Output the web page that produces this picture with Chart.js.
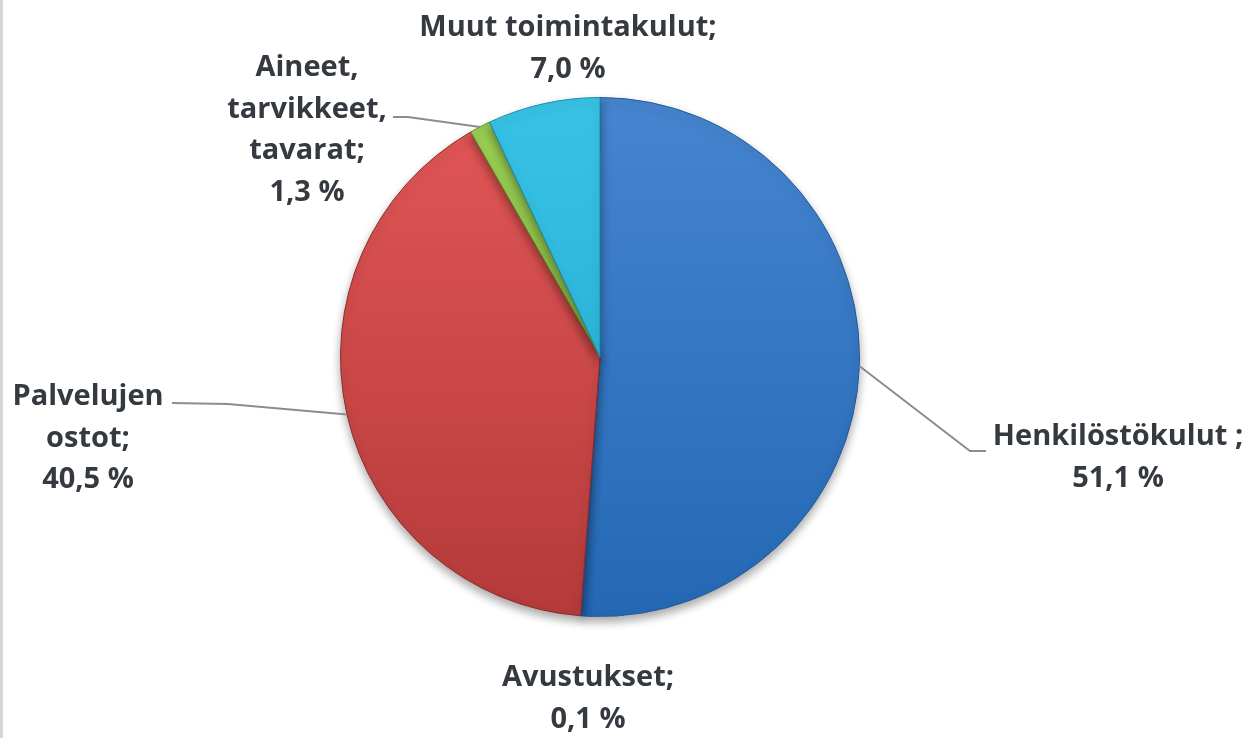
<!DOCTYPE html>
<html>
<head>
<meta charset="utf-8">
<script src="https://cdn.jsdelivr.net/npm/chart.js@4"></script>
<style>
  html, body { margin: 0; padding: 0; background: #fff; }
  #wrap { width: 1258px; height: 738px; position: relative; border-left: 3px solid #d6d6d6; box-sizing: border-box; }
</style>
</head>
<body>
<div id="wrap"><canvas id="myChart" width="1255" height="738"></canvas></div>
<script>
const labels = ["Henkilöstökulut ;", "Avustukset;", "Palvelujen ostot;", "Aineet, tarvikkeet, tavarat;", "Muut toimintakulut;"];
const values = [51.1, 0.1, 40.5, 1.3, 7.0];
const topColors = ["#4685d0", "#3f77c2", "#e35757", "#9ccf55", "#38c3e6"];
const bottomColors = ["#2468b4", "#2a5ea0", "#b53a3a", "#78ad35", "#1fa6cc"];
const borderColors = ["#24589a", "#24589a", "#8e2a2a", "#5e8c26", "#1a8aa8"];

// label text lines and where each label block sits (centre x, first line y, leader end)
const labelLines = [
  ["Henkilöstökulut ;", "51,1 %"],
  ["Avustukset;", "0,1 %"],
  ["Palvelujen", "ostot;", "40,5 %"],
  ["Aineet,", "tarvikkeet,", "tavarat;", "1,3 %"],
  ["Muut toimintakulut;", "7,0 %"],
];
const labelPos = [
  { x: 1115, y: 437, line: [[967, 451], [983, 451]] },
  { x: 585, y: 678, line: null },
  { x: 85, y: 397, line: [[225, 404], [169, 403]] },
  { x: 304, y: 68, line: [[405, 117], [390, 117]] },
  { x: 565, y: 28, line: null },
];

function grad(ctx, i) {
  const chart = ctx.chart;
  const area = chart.chartArea;
  if (!area) return topColors[i];
  const g = chart.ctx.createLinearGradient(0, area.top, 0, area.bottom);
  g.addColorStop(0, topColors[i]);
  g.addColorStop(1, bottomColors[i]);
  return g;
}

const shadowPlugin = {
  id: "shadow",
  beforeDatasetsDraw(chart) {
    const c = chart.ctx;
    c.save();
    c.shadowColor = "rgba(0,0,0,0.35)";
    c.shadowBlur = 10;
    c.shadowOffsetY = 5;
  },
  afterDatasetsDraw(chart) {
    chart.ctx.restore();
  },
};

const labelPlugin = {
  id: "pieLabels",
  afterDraw(chart) {
    const c = chart.ctx;
    const meta = chart.getDatasetMeta(0);
    c.save();
    meta.data.forEach((arc, i) => {
      const p = labelPos[i];
      if (p.line) {
        const mid = (arc.startAngle + arc.endAngle) / 2;
        const sx = arc.x + Math.cos(mid) * arc.outerRadius;
        const sy = arc.y + Math.sin(mid) * arc.outerRadius;
        c.strokeStyle = "#8c8c8c";
        c.lineWidth = 2;
        c.beginPath();
        c.moveTo(sx, sy);
        p.line.forEach(([x, y]) => c.lineTo(x, y));
        c.stroke();
      }
      c.fillStyle = "#353a40";
      c.font = "bold 29px 'Open Sans'";
      c.textAlign = "center";
      c.textBaseline = "middle";
      labelLines[i].forEach((t, k) => c.fillText(t, p.x, p.y + k * 41.5));
    });
    c.restore();
  },
};

const grapharea = document.getElementById("myChart");

const data = {
  labels: labels,
  datasets: [
    {
      data: values,
      backgroundColor: (ctx) => grad(ctx, ctx.dataIndex),
      borderColor: borderColors,
      borderWidth: 1,
    },
  ],
};

const config = {
  type: "pie",
  data: data,
  options: {
    responsive: false,
    animation: false,
    layout: { padding: { top: 97, bottom: 121, left: 0, right: 61 } },
    plugins: {
      legend: { display: false },
      tooltip: { enabled: false },
    },
  },
  plugins: [shadowPlugin, labelPlugin],
};

const myChart = new Chart(grapharea, config);
</script>
</body>
</html>
